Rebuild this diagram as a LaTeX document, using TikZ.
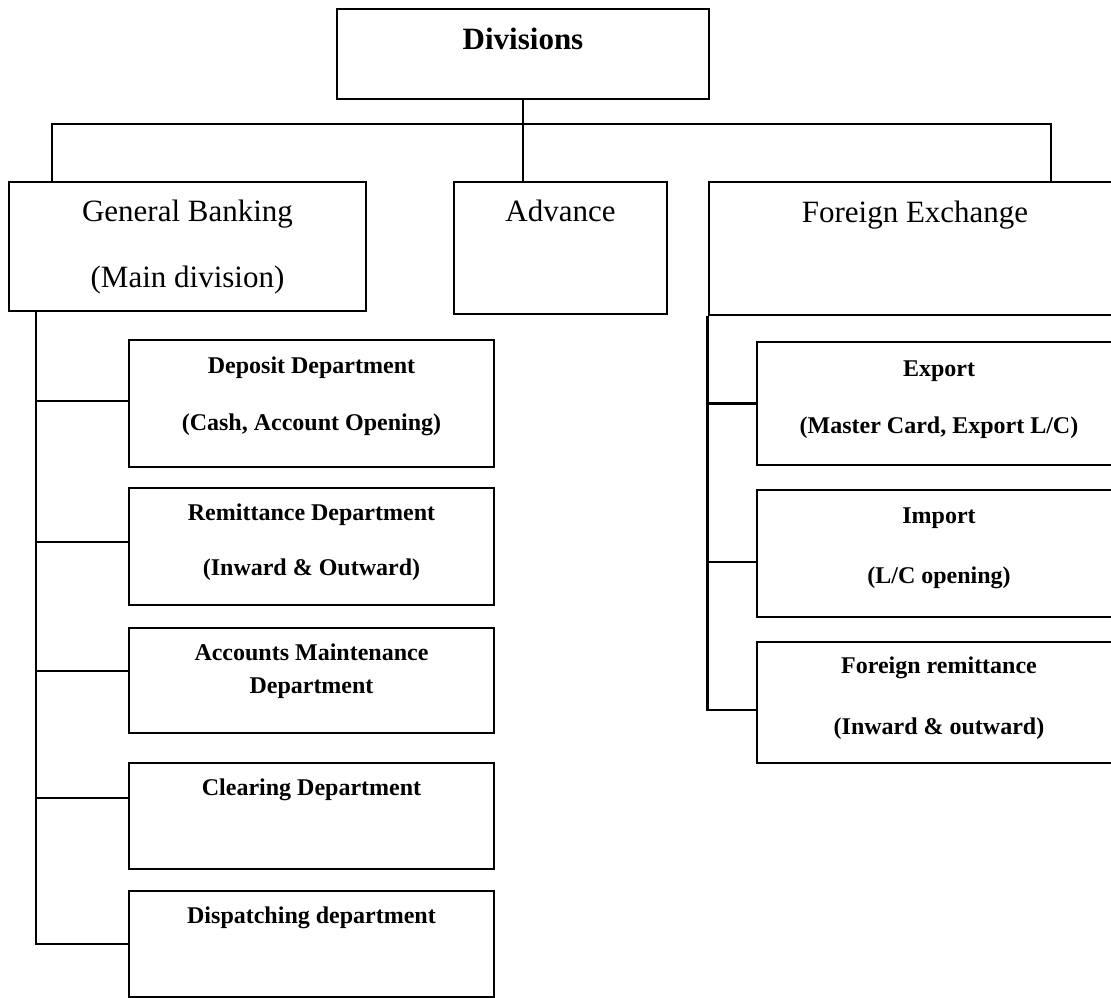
\documentclass[tikz,border=0pt]{standalone}
\usepackage{fontspec}
\setmainfont{Liberation Serif}
\usetikzlibrary{positioning}

\begin{document}
\begin{tikzpicture}[x=1pt, y=-1pt,
    box/.style={draw, line width=2.8pt, inner sep=0pt},
    conn/.style={line width=2.3pt},
    head/.style={font=\fontsize{31}{37}\selectfont, align=center, inner sep=0pt},
    dept/.style={font=\fontsize{24}{29}\selectfont\bfseries, align=center, inner sep=0pt}]
    % page frame (the right column runs off the page)
    \useasboundingbox (0,0) rectangle (1111,998);
    \clip (0,0) rectangle (1111,998);

    % top box
    \node[box, minimum width=372pt, minimum height=90pt] (div) at (523,54) {};
    \node[head, font=\fontsize{31}{37}\selectfont\bfseries, below=20pt of div.north] (divtxt) {Divisions};

    % --- the three divisions ---
    \node[box, minimum width=357pt, minimum height=129pt] (gb) at (187.5,246.5) {};
    \node[box, minimum width=213pt, minimum height=132pt] (adv) at (560.5,248) {};
    \node[box, minimum width=412pt, minimum height=133pt] (fe) at (915,248.5) {};
    \node[head, below=19pt of gb.north] (gbtxt) {General Banking\\[29pt](Main division)};
    \node[head, below=19pt of adv.north] (advtxt) {Advance};
    \node[head, below=20pt of fe.north] (fetxt) {Foreign Exchange};

    % bus from the top box
    \coordinate (busl) at (52,124);
    \coordinate (busr) at (1051,124);
    \draw[conn] (div.south) -- (div.south |- adv.north);
    \draw[conn] (busl |- gb.north) -- (busl) -- (busr) -- (busr |- fe.north);

    % --- general banking departments ---
    \node[box, minimum width=365pt, minimum height=127pt] (dep) at (311.5,403.5) {};
    \node[box, minimum width=365pt, minimum height=117pt] (rem) at (311.5,546.5) {};
    \node[box, minimum width=365pt, minimum height=105pt] (acm) at (311.5,680.5) {};
    \node[box, minimum width=365pt, minimum height=106pt] (clr) at (311.5,816) {};
    \node[box, minimum width=365pt, minimum height=106pt] (dsp) at (311.5,944) {};
    \node[dept, below=18pt of dep.north] (deptxt) {Deposit Department\\[28pt](Cash, Account Opening)};
    \node[dept, below=17pt of rem.north] (remtxt) {Remittance Department\\[26pt](Inward \& Outward)};
    \node[dept, below=17pt of acm.north] (acmtxt) {Accounts Maintenance\\[4pt]Department};
    \node[dept, below=17pt of clr.north] (clrtxt) {Clearing Department};
    \node[dept, below=17pt of dsp.north] (dsptxt) {Dispatching department};

    % left spine
    \coordinate (lsp) at (36,0);
    \coordinate (dep-in) at ([yshift=2.5pt]dep.west);
    \coordinate (rem-in) at ([yshift=4.5pt]rem.west);
    \coordinate (acm-in) at ([yshift=9.5pt]acm.west);
    \coordinate (clr-in) at ([yshift=18pt]clr.west);
    \draw[conn] (lsp |- gb.south) -- (lsp |- dsp.west) -- (dsp.west);
    \draw[conn] (lsp |- dep-in) -- (dep-in);
    \draw[conn] (lsp |- rem-in) -- (rem-in);
    \draw[conn] (lsp |- acm-in) -- (acm-in);
    \draw[conn] (lsp |- clr-in) -- (clr-in);

    % --- foreign exchange departments ---
    \node[box, minimum width=364pt, minimum height=123pt] (exp) at (939,403.5) {};
    \node[box, minimum width=364pt, minimum height=127pt] (imp) at (939,553.5) {};
    \node[box, minimum width=364pt, minimum height=121pt] (frm) at (939,702.5) {};
    \node[dept, below=19.5pt of exp.north] (exptxt) {Export\\[28pt](Master Card, Export L/C)};
    \node[dept, below=18.5pt of imp.north] (imptxt) {Import\\[31pt](L/C opening)};
    \node[dept, below=16.5pt of frm.north] (frmtxt) {Foreign remittance\\[32pt](Inward \& outward)};

    % right spine
    \coordinate (imp-in) at ([yshift=-8.5pt]imp.west);
    \coordinate (frm-in) at ([yshift=-7.5pt]frm.west);
    \draw[conn] (fe.south west) -- (fe.south west |- frm-in) -- (frm-in);
    \draw[conn] (fe.south west |- exp.west) -- (exp.west);
    \draw[conn] (fe.south west |- imp-in) -- (imp-in);

\end{tikzpicture}
\end{document}
